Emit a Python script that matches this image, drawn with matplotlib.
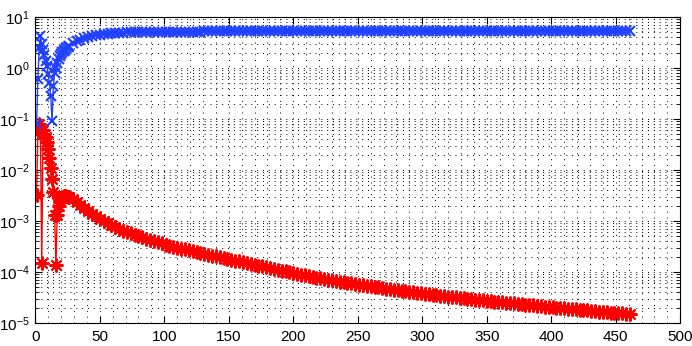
import numpy as np
import matplotlib
matplotlib.use('Agg')
import matplotlib.pyplot as plt
from matplotlib.ticker import MultipleLocator, LogLocator, NullFormatter

plt.rcParams['font.family'] = ['Liberation Sans', 'DejaVu Sans']
plt.rcParams['mathtext.fontset'] = 'custom'
plt.rcParams['mathtext.rm'] = 'Liberation Sans'
plt.rcParams['mathtext.it'] = 'Liberation Sans'

# iterations 1..25 read one by one
x_head = list(range(1, 26))
blue_head = [0.08, 0.6, 2.5, 4.2, 3.0, 2.3, 1.8, 1.4, 1.1, 0.75, 0.5, 0.28, 0.09,
             0.45, 0.8, 1.0, 1.25, 1.5, 1.7, 1.9, 2.05, 2.2, 2.3, 2.45, 2.6]
red_head = [0.0033, 0.055, 0.08, 0.06, 0.00015, 0.06, 0.05, 0.045, 0.035, 0.026,
            0.017, 0.011, 0.0068, 0.0038, 0.0013, 0.00014, 0.0013, 0.0020, 0.0025,
            0.0028, 0.0030, 0.0031, 0.0031, 0.0031, 0.0030]

# from iteration 26 on, every 3rd iteration
tail_start = 26
tail_step = 3
blue_tail = [2.75, 3.05, 3.35, 3.6, 3.85, 4.05, 4.2, 4.35, 4.5, 4.6, 4.68, 4.75,
             4.82, 4.87, 4.92, 4.96, 5.0, 5.03, 5.05, 5.07, 5.09, 5.1, 5.11, 5.12,
             5.13, 5.14, 5.15, 5.15, 5.16, 5.16, 5.17, 5.17, 5.18, 5.18, 5.18, 5.19,
             5.19, 5.19, 5.2, 5.2, 5.2, 5.2, 5.21, 5.21, 5.21, 5.21, 5.21, 5.22,
             5.22, 5.22, 5.22, 5.22, 5.23, 5.23, 5.23, 5.23, 5.23, 5.23, 5.24, 5.24,
             5.24, 5.24, 5.24, 5.24, 5.24, 5.25, 5.25, 5.25, 5.25, 5.25, 5.25, 5.25,
             5.25, 5.26, 5.26, 5.26, 5.26, 5.26, 5.26, 5.26, 5.26, 5.26, 5.27, 5.27,
             5.27, 5.27, 5.27, 5.27, 5.27, 5.27, 5.27, 5.27, 5.28, 5.28, 5.28, 5.28,
             5.28, 5.28, 5.28, 5.28, 5.28, 5.28, 5.28, 5.28, 5.29, 5.29, 5.29, 5.29,
             5.29, 5.29, 5.29, 5.29, 5.29, 5.29, 5.29, 5.29, 5.29, 5.29, 5.3, 5.3,
             5.3, 5.3, 5.3, 5.3, 5.3, 5.3, 5.3, 5.3, 5.3, 5.3, 5.3, 5.3, 5.3, 5.3,
             5.3, 5.3, 5.3, 5.3, 5.3, 5.3, 5.3, 5.3, 5.3, 5.3, 5.3, 5.3]
# red tail in units of 1e-6
red_tail_u = [2950, 2700, 2400, 2100, 1820, 1590, 1400, 1250, 1120, 1010, 920, 830,
              760, 700, 650, 610, 575, 545, 510, 483, 455, 430, 405, 385, 365, 347,
              332, 317, 302, 290, 278, 267, 256, 246, 237, 228, 219, 211, 203, 195,
              188, 181, 174, 168, 162, 156, 150, 144, 139, 134, 129, 124, 119, 115,
              111, 107, 103, 99, 95, 92, 89, 86, 83, 80.5, 78, 75.5, 73, 71, 69, 67,
              65, 63, 61.5, 60, 58.5, 57, 55.5, 54, 52.5, 51, 50, 48.8, 47.6, 46.5,
              45.4, 44.3, 43.3, 42.3, 41.3, 40.4, 39.5, 38.6, 37.8, 37, 36.2, 35.4,
              34.7, 34, 33.3, 32.6, 32, 31.4, 30.8, 30.2, 29.6, 29, 28.5, 28, 27.5,
              27, 26.5, 26, 25.6, 25.2, 24.8, 24.4, 24, 23.6, 23.2, 22.8, 22.4, 22,
              21.6, 21.2, 20.8, 20.5, 20.2, 19.9, 19.6, 19.3, 19, 18.7, 18.4, 18.1,
              17.8, 17.5, 17.2, 16.9, 16.6, 16.3, 16.1, 15.9, 15.7, 15.5, 15.3, 15.1]

x_blue = x_head + list(range(tail_start, tail_start + tail_step * len(blue_tail), tail_step))
x_red = x_head + list(range(tail_start, tail_start + tail_step * len(red_tail_u), tail_step))
blue = blue_head + blue_tail
red = red_head + [v * 1e-6 for v in red_tail_u]

fig = plt.figure(figsize=(6.92, 3.46), dpi=100)
ax = fig.add_axes([0.051, 0.066, 0.932, 0.885])

ax.semilogy(x_red, red, color='#ff0000', marker=(8, 2, 0), markersize=10, lw=1, mew=1.5)
ax.semilogy(x_blue, blue, color='#2040ff', marker='x', markersize=7, lw=1, mew=1.5)

ax.set_xlim(0, 500)
ax.set_ylim(1e-5, 10)
ax.xaxis.set_major_locator(MultipleLocator(50))
ax.xaxis.set_minor_locator(MultipleLocator(10))
ax.yaxis.set_major_locator(LogLocator(base=10, numticks=10))
ax.yaxis.set_minor_locator(LogLocator(base=10, subs=np.arange(2, 10), numticks=20))
ax.yaxis.set_minor_formatter(NullFormatter())

ax.grid(True, which='both', color='black', linestyle=(0, (1, 5)), linewidth=0.7)
ax.set_axisbelow(True)
ax.tick_params(which='both', direction='in', top=True, right=True, labelsize=11)
ax.tick_params(axis='x', which='minor', length=0)
ax.tick_params(axis='x', which='major', length=5, pad=5)
ax.tick_params(axis='y', which='major', length=5, pad=4)
ax.tick_params(axis='y', which='minor', length=3)
for s in ax.spines.values():
    s.set_linewidth(0.8)

fig.savefig('out.png', dpi=100)
